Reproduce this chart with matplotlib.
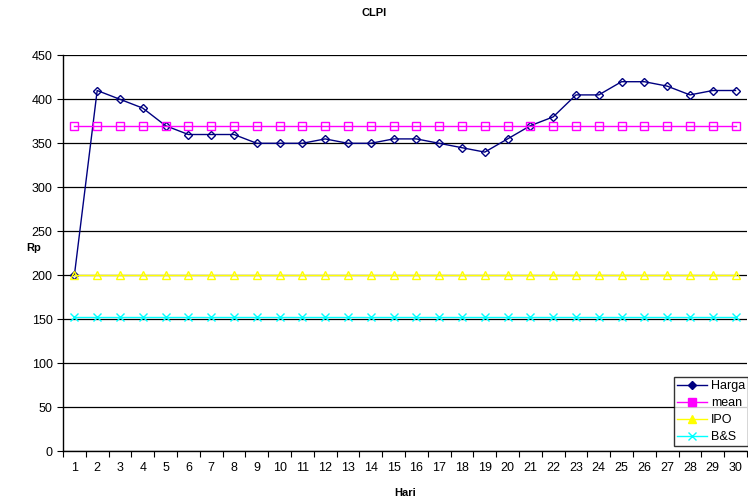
import numpy as np
import matplotlib
matplotlib.use("Agg")
import matplotlib.pyplot as plt
from matplotlib.ticker import MultipleLocator, FixedLocator

plt.rcParams['font.family'] = ['Liberation Sans', 'DejaVu Sans']

hari = np.arange(1, 31)
harga = [200, 410, 400, 390, 370, 360, 360, 360, 350, 350,
         350, 355, 350, 350, 355, 355, 350, 345, 340, 355,
         370, 380, 405, 405, 420, 420, 415, 405, 410, 410]
mean = [370] * 30
ipo = [200] * 30
bns = [153] * 30

fig = plt.figure(figsize=(7.48, 5.01), dpi=100)
ax = fig.add_axes([0.0842, 0.0992, 0.9144, 0.7904])

ax.plot(hari, harga, color='#000080', marker='D', markersize=4.5,
        markerfacecolor='none', markeredgewidth=1.0, linewidth=1.0, label='Harga')
ax.plot(hari, mean, color='#ff00ff', marker='s', markersize=6,
        markerfacecolor='none', markeredgewidth=1.0, linewidth=1.0, label='mean')
ax.plot(hari, ipo, color='#ffff00', marker='^', markersize=6,
        markerfacecolor='none', markeredgewidth=1.0, linewidth=1.0, label='IPO')
ax.plot(hari, bns, color='#00ffff', marker='x', markersize=6,
        markeredgewidth=1.0, linewidth=1.0, label='B&S')

ax.set_xlim(0.5, 30.5)
ax.set_ylim(0, 450)
ax.yaxis.set_major_locator(MultipleLocator(50))
ax.grid(axis='y', color='black', linewidth=0.9)
ax.set_axisbelow(True)

ax.xaxis.set_major_locator(FixedLocator(np.arange(0.5, 31, 1)))
ax.xaxis.set_major_formatter(plt.NullFormatter())
ax.xaxis.set_minor_locator(FixedLocator(hari))
ax.set_xticklabels([str(h) for h in hari], minor=True)
ax.tick_params(axis='x', which='minor', length=0, labelsize=9, pad=8)
ax.tick_params(axis='x', which='major', length=4, direction='out')
ax.tick_params(axis='y', length=4, direction='out', labelsize=9)

for s in ['top', 'right']:
    ax.spines[s].set_visible(False)
for s in ['left', 'bottom']:
    ax.spines[s].set_linewidth(1.0)

ax.set_xlabel('Hari', fontsize=8, fontweight='bold', labelpad=10)
ax.set_ylabel('Rp', fontsize=8, fontweight='bold', rotation=0, labelpad=14)
ax.yaxis.set_label_coords(-0.043, 0.5)
fig.suptitle('CLPI', fontsize=8, fontweight='bold', y=0.985)

leg = ax.legend(loc='lower right', bbox_to_anchor=(1.002, 0.013), fontsize=9,
                frameon=True, fancybox=False, edgecolor='black',
                borderpad=0.25, labelspacing=0.4, handlelength=2.4,
                handletextpad=0.3, borderaxespad=0)
leg.get_frame().set_linewidth(1.0)
for h in leg.legend_handles:
    h.set_markerfacecolor(h.get_color())

fig.savefig('out.png', dpi=100)
